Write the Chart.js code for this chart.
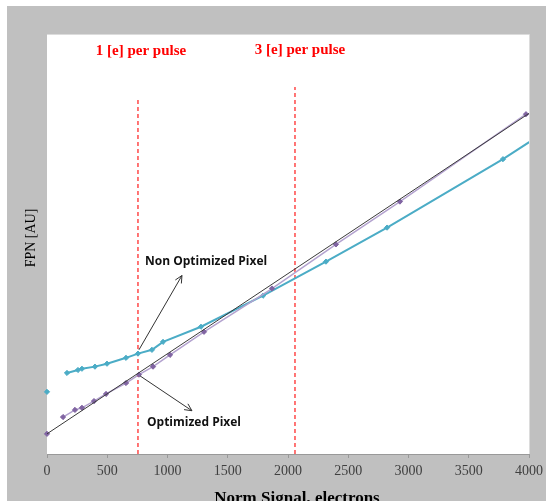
<!DOCTYPE html>
<html>
<head>
<meta charset="utf-8">
<script src="https://cdn.jsdelivr.net/npm/chart.js@4.4.1/dist/chart.umd.min.js"></script>
<style>
  html, body { margin:0; padding:0; background:#fff; }
  #wrap { width:546px; height:501px; }
</style>
</head>
<body>
<div id="wrap"><canvas id="fpnChart" width="546" height="501"></canvas></div>
<script>
// x ticks
var xTicks = [0, 500, 1000, 1500, 2000, 2500, 3000, 3500, 4000];

// Optimized pixel (purple)
var optX = [0, 133, 232, 290, 390, 490, 656, 763, 880, 1021, 1303, 1867, 2398, 2929, 3975];
var optY = [4.8, 8.8, 10.5, 11.0, 12.6, 14.3, 16.9, 18.9, 20.8, 23.6, 29.1, 39.4, 49.9, 60.1, 80.9];

// Non optimized pixel (cyan)
var nonX = [0, 166, 257, 290, 398, 498, 656, 755, 871, 963, 1278, 1793, 2315, 2822, 3784, 4100];
var nonY = [14.8, 19.3, 20.0, 20.3, 20.8, 21.5, 22.9, 23.9, 24.8, 26.7, 30.3, 37.7, 45.8, 53.9, 70.2, 76.1];

// linear fit
var fitX = [0, 4000];
var fitY = [4.8, 81.1];

// pulse markers
var pulseX = [755, 2058];
var pulseTop = [85.0, 87.4];
var pulseLabels = ['1 [e] per pulse', '3 [e] per pulse'];

// arrows [x0, y0, x1, y1] and labels
var arrowNon = [763, 24.8, 1120, 42.5];
var arrowOpt = [772, 18.6, 1203, 10.3];
var labelNon = { text:'Non Optimized Pixel', x:813, y:45.8 };
var labelOpt = { text:'Optimized Pixel', x:830, y:7.6 };

function pts(xs, ys){ return xs.map(function(x,i){ return {x:x, y:ys[i]}; }); }

var cyan = '#4bacc6', purple = '#8064a2', lilac = '#b3a2cf';

var bgPlugin = {
  id:'bg',
  beforeDraw: function(chart){
    var c = chart.ctx, a = chart.chartArea;
    c.save();
    c.fillStyle = '#fff'; c.fillRect(0,0,chart.width,chart.height);
    c.fillStyle = '#c0c0c0'; c.fillRect(7,6,chart.width-7,chart.height-6);
    c.fillStyle = '#fff'; c.fillRect(a.left,a.top,a.right-a.left,a.bottom-a.top);
    c.strokeStyle = '#dcdcdc'; c.lineWidth = 1;
    c.beginPath(); c.moveTo(a.left,a.top+0.5); c.lineTo(a.right+0.5,a.top+0.5); c.lineTo(a.right+0.5,a.bottom); c.stroke();
    c.restore();
  }
};

function arrow(c, x0, y0, x1, y1){
  var ang = Math.atan2(y1-y0, x1-x0), h = 8;
  c.beginPath(); c.moveTo(x0,y0); c.lineTo(x1,y1); c.stroke();
  c.beginPath();
  c.moveTo(x1 - h*Math.cos(ang-0.45), y1 - h*Math.sin(ang-0.45));
  c.lineTo(x1,y1);
  c.lineTo(x1 - h*Math.cos(ang+0.45), y1 - h*Math.sin(ang+0.45));
  c.stroke();
}

var notePlugin = {
  id:'notes',
  afterDraw: function(chart){
    var c = chart.ctx, xs = chart.scales.x, ys = chart.scales.y;
    c.save();
    // pulse labels
    c.fillStyle = '#ff0000'; c.font = 'bold 15px "Liberation Serif"'; c.textAlign = 'center'; c.textBaseline = 'alphabetic';
    c.fillText(pulseLabels[0], 141, 55);
    c.fillText(pulseLabels[1], 300, 54);
    // arrows
    c.strokeStyle = '#333'; c.lineWidth = 1;
    arrow(c, xs.getPixelForValue(arrowNon[0]), ys.getPixelForValue(arrowNon[1]), xs.getPixelForValue(arrowNon[2]), ys.getPixelForValue(arrowNon[3]));
    arrow(c, xs.getPixelForValue(arrowOpt[0]), ys.getPixelForValue(arrowOpt[1]), xs.getPixelForValue(arrowOpt[2]), ys.getPixelForValue(arrowOpt[3]));
    c.fillStyle = '#111'; c.font = 'bold 12px "Open Sans"'; c.textAlign = 'left'; c.textBaseline = 'middle';
    c.fillText(labelNon.text, xs.getPixelForValue(labelNon.x), ys.getPixelForValue(labelNon.y), 130);
    c.fillText(labelOpt.text, xs.getPixelForValue(labelOpt.x), ys.getPixelForValue(labelOpt.y), 99);
    // axis titles
    c.fillStyle = '#000'; c.textAlign = 'center';
    c.font = 'bold 17px "Liberation Serif"'; c.textBaseline = 'alphabetic';
    c.fillText('Norm Signal, electrons', 297, 503);
    c.translate(31, 238); c.rotate(-Math.PI/2);
    c.font = '14px "Liberation Serif"'; c.textBaseline = 'middle';
    c.fillText('FPN [AU]', 0, 0);
    c.restore();
  }
};

function skipFirst(color){
  return function(ctx){ return ctx.p0DataIndex === 0 ? 'rgba(0,0,0,0)' : color; };
}

var pulseSets = pulseX.map(function(x,i){
  return { data: pts([x,x],[0,pulseTop[i]]), showLine:true, borderColor:'#ff1a1a', borderWidth:1.2,
    borderDash:[4,3], pointRadius:0, order:5 };
});

new Chart(document.getElementById('fpnChart').getContext('2d'), {
  type:'scatter',
  data:{ datasets:[
    { data: pts(fitX, fitY), showLine:true, borderColor:'#3a3a3a', borderWidth:1, pointRadius:0, order:1 },
    { data: pts(optX, optY), showLine:true, borderColor:lilac, borderWidth:1.5, segment:{ borderColor: skipFirst(lilac) },
      pointStyle:'rectRot', pointRadius:2.6, pointBackgroundColor:purple, pointBorderColor:purple, pointBorderWidth:1,
      clip:{left:6, top:0, right:0, bottom:0}, order:2 },
    { data: pts(nonX, nonY), showLine:true, borderColor:cyan, borderWidth:2, segment:{ borderColor: skipFirst(cyan) },
      pointStyle:'rectRot', pointRadius:2.6, pointBackgroundColor:cyan, pointBorderColor:cyan, pointBorderWidth:1,
      clip:{left:6, top:0, right:0, bottom:0}, order:3 }
  ].concat(pulseSets) },
  options:{
    responsive:false, animation:false,
    layout:{ padding:{ left:47, top:34, right:17, bottom:0 } },
    plugins:{ legend:{display:false}, tooltip:{enabled:false} },
    scales:{
      x:{ type:'linear', min:0, max:4000,
        afterBuildTicks: function(s){ s.ticks = xTicks.map(function(v){ return {value:v}; }); },
        afterFit: function(s){ s.height = 47; s.paddingLeft = 0; s.paddingRight = 0; },
        grid:{ drawOnChartArea:false, drawTicks:true, tickLength:4, color:'#999' },
        border:{ display:true, color:'#999' },
        ticks:{ font:{ family:'"Liberation Serif"', size:14 }, color:'#404040', padding:5, maxRotation:0,
          callback: function(v){ return String(v); } } },
      y:{ type:'linear', min:0, max:100, display:false }
    }
  },
  plugins:[bgPlugin, notePlugin]
});
</script>
</body>
</html>
